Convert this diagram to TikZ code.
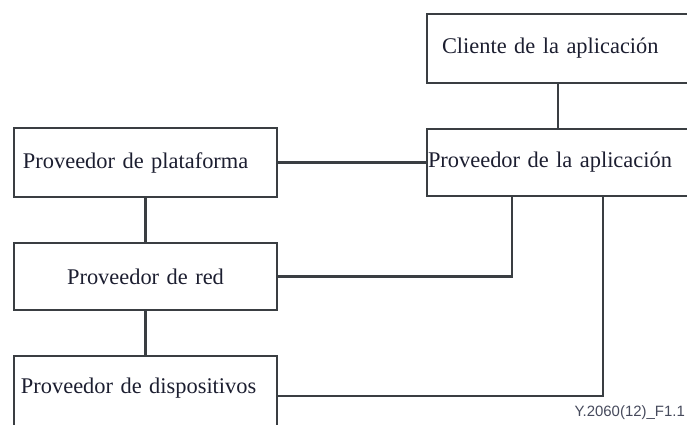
\documentclass[tikz,border=0pt]{standalone}
\usepackage{fontspec}
\setmainfont{Liberation Serif}
\newfontfamily\figsans{Liberation Sans}
\usepackage{xcolor}
\usepackage{tikz}
\usetikzlibrary{positioning,calc}
\definecolor{roleline}{RGB}{58,62,66}
\definecolor{roletext}{RGB}{28,30,48}
\definecolor{figgray}{RGB}{70,74,92}

\begin{document}
\begin{tikzpicture}[x=1bp, y=-1bp,
    rolebox/.style={draw=roleline, line width=2.4bp, text=roletext, align=left,
        font=\fontsize{22.5}{26}\selectfont},
    link/.style={draw=roleline, line width=2.4bp}]
                \useasboundingbox (0,0) rectangle (687,424);
                \clip (0,0) rectangle (687,424);

                % Application side
                \node[rolebox, minimum width=262bp, minimum height=69bp, inner xsep=15bp, text width=232bp] (cliente) at (558,48.5) {Cliente de la aplicación};
                \node[rolebox, minimum width=262bp, minimum height=67bp, inner xsep=1bp, text width=260bp] (app) at (558,162.5) {Proveedor de la aplicación};

                % Provider stack
                \node[rolebox, minimum width=263bp, minimum height=69bp, inner xsep=9bp, text width=245bp] (plat) at (145.5,162.5) {Proveedor de plataforma};
                \node[rolebox, minimum width=263bp, minimum height=67bp, inner xsep=10bp, text width=243bp, align=center] (red) at (145.5,276.5) {Proveedor de red};
                \node[rolebox, minimum width=263bp, minimum height=72bp, inner xsep=7bp, text width=249bp, text depth=12bp] (disp) at (145.5,392) {Proveedor de dispositivos};

                % Links
                \draw[link] (cliente.south) -- (app.north);
                \draw[link] (plat.east) -- (app.west);
                \draw[link] (plat.south) -- (red.north);
                \draw[link] (red.south) -- (disp.north);
                \draw[link] (red.east) -| ([xshift=86bp]app.south west);
                \draw[link] ([yshift=-4bp]disp.east) -| ([xshift=177bp]app.south west);

                % Figure id
                \node[anchor=east, text=figgray, inner sep=0pt, font=\figsans\fontsize{15}{17}\selectfont] (figid) at (685,413) {Y.2060(12)\_F1.1};
            \end{tikzpicture}
\end{document}
